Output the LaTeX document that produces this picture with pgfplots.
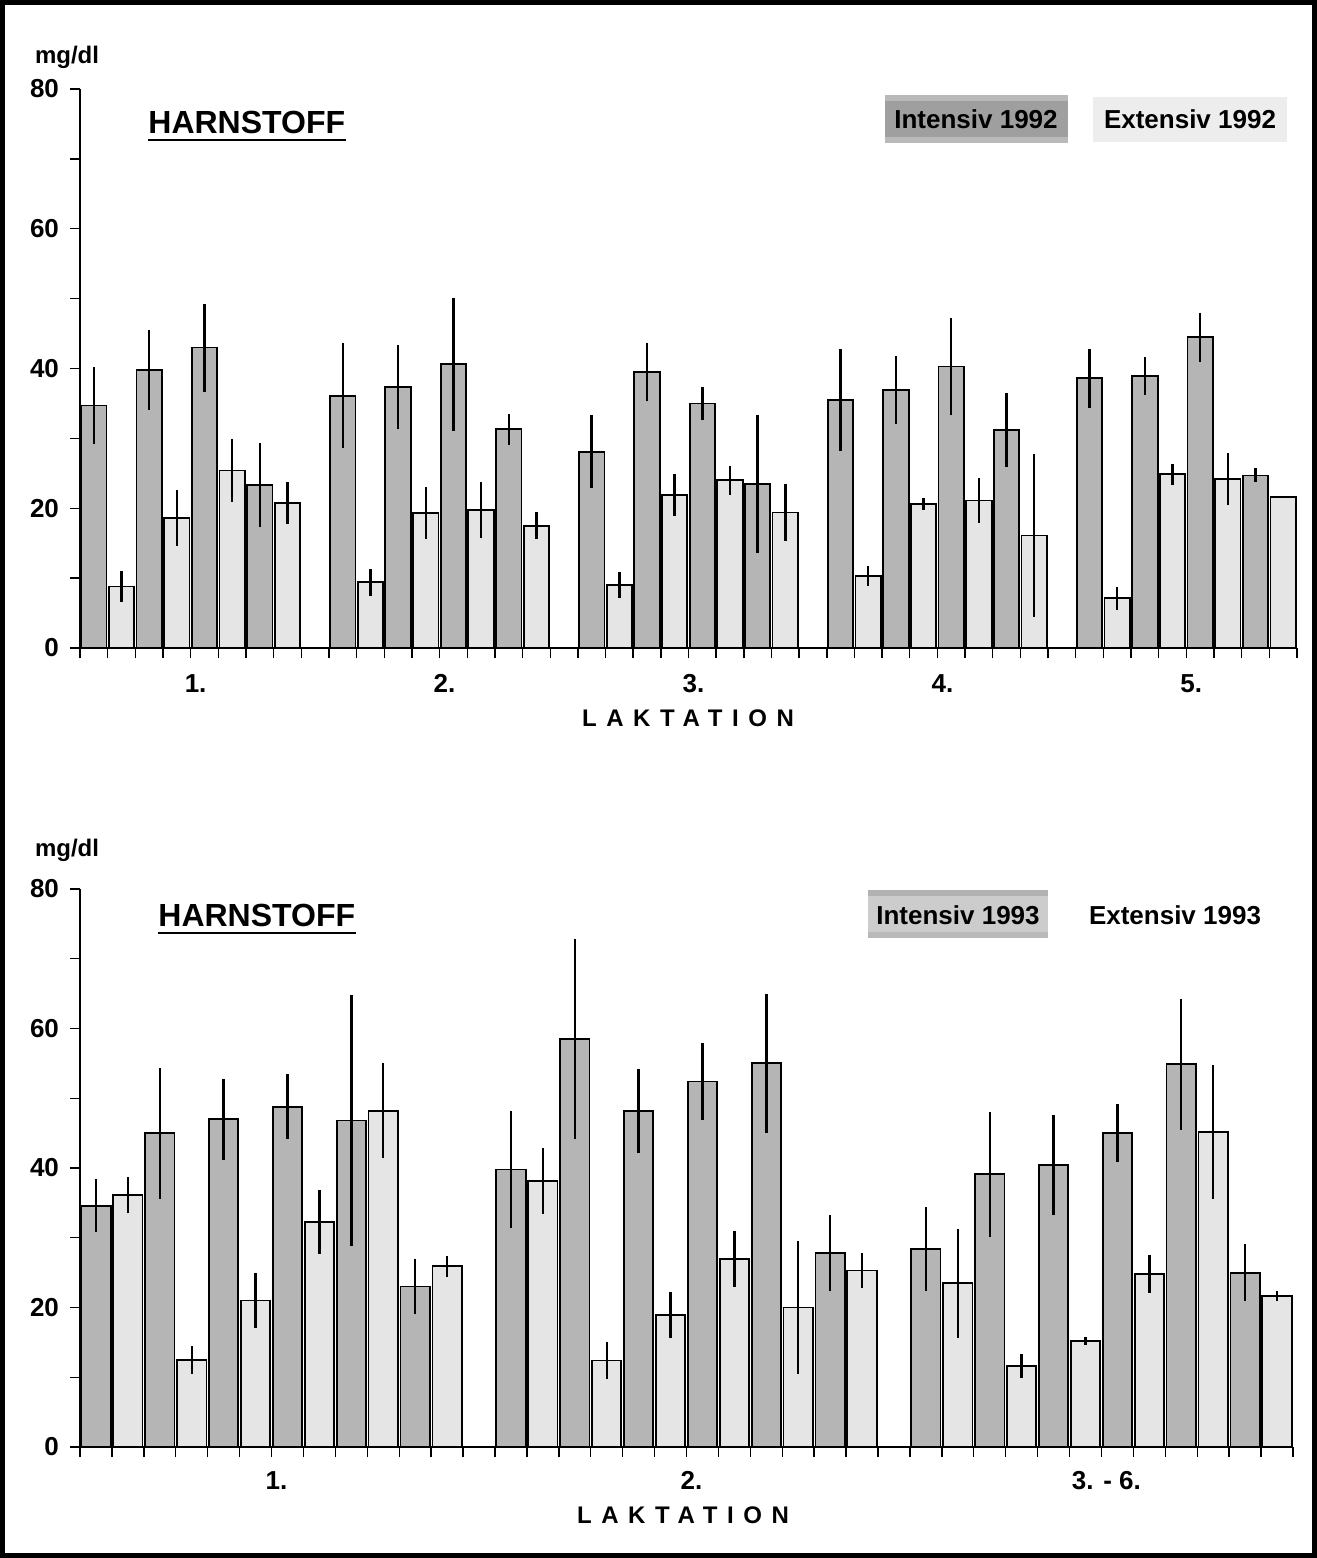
\documentclass[border=0pt]{standalone}
\usepackage{fontspec}
\setmainfont{Liberation Sans}
\usepackage{pgfplots}
\pgfplotsset{compat=1.18}
\usepackage{pgfplotstable}

\definecolor{intens}{gray}{0.71}
\definecolor{extens}{gray}{0.90}

% Harnstoff 1992, five lactations, four pairs per lactation
\pgfplotstableread{
x    y    e
0.5  34.7 5.5
2.5  39.8 5.7
4.5  43.0 6.3
6.5  23.3 6.0
9.5  36.1 7.5
11.5 37.3 6.0
13.5 40.6 9.5
15.5 31.3 2.2
18.5 28.1 5.2
20.5 39.5 4.2
22.5 35.0 2.4
24.5 23.5 9.9
27.5 35.5 7.3
29.5 36.9 4.9
31.5 40.3 7.0
33.5 31.2 5.3
36.5 38.6 4.2
38.5 38.9 2.7
40.5 44.5 3.5
42.5 24.7 1.0
}\intA
\pgfplotstableread{
x    y    e
1.5  8.8  2.2
3.5  18.6 4.0
5.5  25.4 4.5
7.5  20.8 3.0
10.5 9.4  1.9
12.5 19.3 3.7
14.5 19.7 4.0
16.5 17.5 1.9
19.5 9.0  1.9
21.5 21.9 3.0
23.5 24.0 2.1
25.5 19.4 4.1
28.5 10.3 1.4
30.5 20.6 0.8
32.5 21.1 3.2
34.5 16.1 11.6
37.5 7.1  1.6
39.5 24.9 1.5
41.5 24.2 3.7
43.5 21.6 0.0
}\extA
% Harnstoff 1993, three lactation groups, six pairs each
\pgfplotstableread{
x    y    e
0.5  34.6 3.8
2.5  45.0 9.4
4.5  47.0 5.8
6.5  48.8 4.7
8.5  46.8 18.0
10.5 23.0 4.0
13.5 39.8 8.4
15.5 58.5 14.4
17.5 48.2 6.0
19.5 52.4 5.5
21.5 55.0 10.0
23.5 27.8 5.5
26.5 28.4 6.0
28.5 39.1 9.0
30.5 40.4 7.2
32.5 45.0 4.2
34.5 54.9 9.4
36.5 25.0 4.1
}\intB
\pgfplotstableread{
x    y    e
1.5  36.1 2.6
3.5  12.5 2.0
5.5  21.0 4.0
7.5  32.3 4.6
9.5  48.2 6.8
11.5 25.9 1.5
14.5 38.1 4.7
16.5 12.4 2.6
18.5 18.9 3.3
20.5 27.0 4.0
22.5 20.0 9.5
24.5 25.3 2.5
27.5 23.5 7.8
29.5 11.6 1.7
31.5 15.2 0.6
33.5 24.8 2.7
35.5 45.2 9.6
37.5 21.6 0.7
}\extB

\pgfplotsset{
  harn/.style={
    scale only axis,
    ymin=0, ymax=80,
    axis x line=bottom, axis y line=left,
    axis line style={line width=0.9pt, -},
    ytick={0,20,40,60,80}, minor ytick={10,30,50,70},
    tick align=outside,
    major tick length=5pt, minor tick length=5pt,
    tick style={line width=0.7pt, black},
    xticklabels={},
    /pgf/number format/assume math mode=true,
    yticklabel style={font=\bfseries\fontsize{13}{15}\selectfont, xshift=-2pt},
    clip=false,
  },
  harnbar/.style={
    ybar, bar width=0.92, bar shift=0pt,
    draw=black, line width=0.9pt, fill=#1,
    error bars/.cd, y dir=both, y explicit, error mark=none,
    error bar style={line width=1.2pt, black},
  },
}

\begin{document}
\begin{tikzpicture}[x=0.5pt, y=-0.5pt]
\useasboundingbox (0,0) rectangle (1317,1558);
\draw[line width=2.5pt] (2.5,2.5) rectangle (1314.5,1555.5);

% ---------- 1992 ----------
\begin{axis}[harn, at={(40pt,-324pt)}, anchor=south west,
    width=608.5pt, height=279.5pt, xmin=0, xmax=44, xtick={0,...,44}]
  \addplot[harnbar=intens] table[x=x, y=y, y error=e] {\intA};
  \addplot[harnbar=extens] table[x=x, y=y, y error=e] {\extA};
\end{axis}

\node[font=\bfseries\fontsize{12}{14}\selectfont] at (67,57) {mg/dl};
\node[anchor=base west, inner sep=0pt, font=\bfseries\fontsize{16}{18}\selectfont] (t1) at (148,133) {HARNSTOFF};
\draw[line width=1.4pt] (148,140) -- (t1.base east |- 0,140);
\fill[gray!75] (885,95) rectangle (1068,143);
\fill[gray!55] (885,95) rectangle (1068,101);
\fill[gray!55] (885,137) rectangle (1068,143);
\node[font=\bfseries\fontsize{13}{15}\selectfont] at (976,119) {Intensiv 1992};
\fill[gray!14] (1093,97) rectangle (1287,142);
\node[font=\bfseries\fontsize{13}{15}\selectfont] at (1190,119) {Extensiv 1992};
\foreach \lab/\px in {1./190.6, 2./439.5, 3./688.4, 4./937.4, 5./1186.3}
  \node[anchor=base, font=\bfseries\fontsize{13}{15}\selectfont] at (\px+5,692) {\lab};
\node[anchor=base, font=\bfseries\fontsize{12}{14}\selectfont\addfontfeature{LetterSpace=40}] at (688,726) {LAKTATION};

% ---------- 1993 ----------
\begin{axis}[harn, at={(40pt,-723.5pt)}, anchor=south west,
    width=606.5pt, height=279pt, xmin=0, xmax=38, xtick={0,...,38}]
  \addplot[harnbar=intens] table[x=x, y=y, y error=e] {\intB};
  \addplot[harnbar=extens] table[x=x, y=y, y error=e] {\extB};
\end{axis}

\node[font=\bfseries\fontsize{12}{14}\selectfont] at (67,850) {mg/dl};
\node[anchor=base west, inner sep=0pt, font=\bfseries\fontsize{16}{18}\selectfont] (t2) at (158,926) {HARNSTOFF};
\draw[line width=1.4pt] (158,933) -- (t2.base east |- 0,933);
\fill[gray!40] (868,890) rectangle (1048,938);
\fill[gray!60] (868,890) rectangle (1048,896);
\fill[gray!55] (868,932) rectangle (1048,938);
\node[font=\bfseries\fontsize{13}{15}\selectfont] at (958,915) {Intensiv 1993};
\node[font=\bfseries\fontsize{13}{15}\selectfont] at (1175,915) {Extensiv 1993};
\foreach \lab/\px in {1./271.5, 2./686.5, 3. - 6./1101.4}
  \node[anchor=base, font=\bfseries\fontsize{13}{15}\selectfont] at (\px+5,1489) {\lab};
\node[anchor=base, font=\bfseries\fontsize{12}{14}\selectfont\addfontfeature{LetterSpace=40}] at (683,1523) {LAKTATION};
\end{tikzpicture}
\end{document}
